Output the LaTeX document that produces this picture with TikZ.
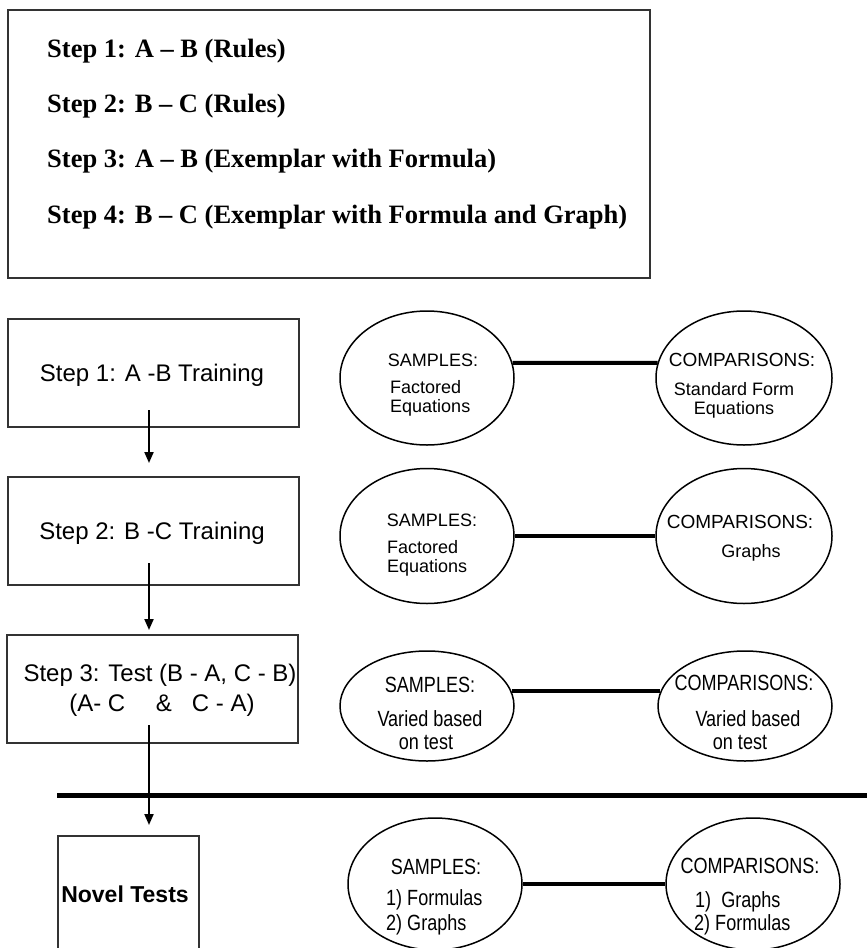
\documentclass[tikz,border=0pt]{standalone}
\usepackage{fontspec}
\setmainfont{Liberation Serif}
\newfontfamily\arial{Liberation Sans}
\newfontfamily\arialn[FakeStretch=0.82]{Liberation Sans}
\usetikzlibrary{shapes.geometric,arrows.meta}
\begin{document}
\begin{tikzpicture}[x=1pt,y=-1pt,
  topbox/.style={draw=black!80, line width=2pt, inner sep=0pt},
  toptext/.style={anchor=west, inner sep=0pt, font=\fontsize{26.5}{30}\selectfont\bfseries},
  flowbox/.style={draw=black!80, line width=1.6pt, inner sep=0pt, minimum width=291pt, minimum height=108pt},
  flowtext/.style={inner sep=0pt, font=\arial\fontsize{24}{29}\selectfont},
  oval/.style={draw, ellipse, line width=1.5pt, inner sep=0pt},
  etxt/.style={inner sep=0pt, font=\arial\fontsize{18}{21}\selectfont},
  ntxt/.style={inner sep=0pt, font=\arialn\fontsize{22}{24}\selectfont},
  link/.style={line width=4pt},
  arr/.style={line width=2pt, -{Triangle[width=9pt,length=11pt]}}
]
\useasboundingbox (0,0) rectangle (867,948);
\clip (0,0) rectangle (867,948);

% top box
\node[topbox, minimum width=642pt, minimum height=268pt] (top) at (329,144) {};
\node[toptext] (t1) at (47,51) {Step 1: A – B (Rules)};
\node[toptext] (t2) at (47,106) {Step 2: B – C (Rules)};
\node[toptext] (t3) at (47,161) {Step 3: A – B (Exemplar with Formula)};
\node[toptext] (t4) at (47,217) {Step 4: B – C (Exemplar with Formula and Graph)};

% flow boxes
\node[flowbox] (b1) at (153.5,373) {};
\node[flowtext] (b1t) at (152,375) {Step 1: A -B Training};
\node[flowbox] (b2) at (153.5,531) {};
\node[flowtext] (b2t) at (152,533) {Step 2: B -C Training};
\node[flowbox] (b3) at (152.5,689) {};
\node[flowtext] (b3t) at (160,675) {Step 3: Test (B - A, C - B)};
\node[flowtext] (b3u) at (162,705) {(A- C \quad\& \ \ C - A)};
\node[flowbox, minimum width=141pt, minimum height=140pt] (b4) at (128.5,906) {};
\node[inner sep=0pt, font=\arial\bfseries\fontsize{23}{28}\selectfont] (b4t) at (125,894) {Novel Tests};

% arrows
\coordinate (a1s) at (149,410); \coordinate (a1e) at (149,463);
\coordinate (a2s) at (149,563); \coordinate (a2e) at (149,630);
\coordinate (a3s) at (149,725); \coordinate (a3e) at (149,825);
\draw[arr] (a1s) -- (a1e);
\draw[arr] (a2s) -- (a2e);
\draw[arr] (a3s) -- (a3e);

% thick divider
\coordinate (hl) at (57,795); \coordinate (hr) at (870,795);
\draw[line width=5pt] (hl) -- (hr);

% row 1
\node[oval, minimum width=174pt, minimum height=134pt] (s1) at (427,378) {};
\node[oval, minimum width=176pt, minimum height=134pt] (c1) at (744,378) {};
\draw[link] (s1.10) -- (c1.170);
\node[etxt] (s1a) at (433,360) {SAMPLES:};
\node[etxt, anchor=west] (s1b) at (390,387) {Factored};
\node[etxt, anchor=west] (s1c) at (390,408) {Equations};
\node[etxt, font=\arial\fontsize{19}{21}\selectfont] (c1a) at (742,360) {COMPARISONS:};
\node[etxt] (c1b) at (734,389) {Standard Form};
\node[etxt] (c1c) at (734,410) {Equations};

% row 2
\node[oval, minimum width=174pt, minimum height=135pt] (s2) at (427,536) {};
\node[oval, minimum width=176pt, minimum height=135pt] (c2) at (744,536) {};
\draw[link] (s2.east) -- (c2.west);
\node[etxt] (s2a) at (432,520) {SAMPLES:};
\node[etxt, anchor=west] (s2b) at (387,547) {Factored};
\node[etxt, anchor=west] (s2c) at (387,568) {Equations};
\node[etxt, font=\arial\fontsize{19}{21}\selectfont] (c2a) at (740,522) {COMPARISONS:};
\node[etxt] (c2b) at (751,553) {Graphs};

% row 3
\node[oval, minimum width=174pt, minimum height=110pt] (s3) at (427,706) {};
\node[oval, minimum width=174pt, minimum height=110pt] (c3) at (745,706) {};
\draw[link] (s3.10) -- (c3.170);
\node[ntxt] (s3a) at (430,685) {SAMPLES:};
\node[ntxt] (s3b) at (430,719) {Varied based};
\node[ntxt] (s3c) at (426,742) {on test};
\node[ntxt] (c3a) at (744,683) {COMPARISONS:};
\node[ntxt] (c3b) at (748,719) {Varied based};
\node[ntxt] (c3c) at (740,742) {on test};

% row 4
\node[oval, minimum width=174pt, minimum height=132pt] (s4) at (435,884) {};
\node[oval, minimum width=174pt, minimum height=132pt] (c4) at (753,884) {};
\draw[link] (s4.east) -- (c4.west);
\node[ntxt] (s4a) at (436,867) {SAMPLES:};
\node[ntxt, anchor=west] (s4b) at (386,900) {1) Formulas};
\node[ntxt, anchor=west] (s4c) at (386,925) {2) Graphs};
\node[ntxt] (c4a) at (750,866) {COMPARISONS:};
\node[ntxt, anchor=west] (c4b) at (695,902) {1) \ Graphs};
\node[ntxt, anchor=west] (c4c) at (694,925) {2) Formulas};
\end{tikzpicture}
\end{document}
